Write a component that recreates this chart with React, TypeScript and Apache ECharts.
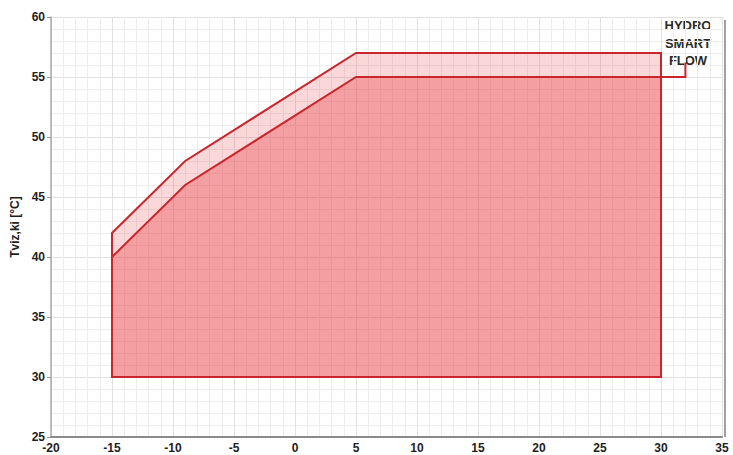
import React, { useEffect, useRef } from "react";
import * as echarts from "echarts";

// Operating envelope (outdoor temp °C -> water outlet temp °C)
const lowerX = [-15, -15, -9, 5, 30, 30];
const lowerY = [30, 40, 46, 55, 55, 30];
const upperX = [-15, -15, -9, 5, 30, 30];
const upperY = [40, 42, 48, 57, 57, 55];
const hydroX = [30, 32, 32];
const hydroY = [55, 55, 56.2];
const hydroLabel = "HYDRO\nSMART\nFLOW";
const yAxisName = "Tviz,ki [°C]";

const FONT = "'Liberation Sans', Arial, sans-serif";
const RED = "#c9252c";

export default function App() {
  const ref = useRef<HTMLDivElement>(null);
  useEffect(() => {
    document.body.style.margin = "0";
    const chart = echarts.init(ref.current!, null, { renderer: "svg" });
    chart.setOption({
      animation: false,
      backgroundColor: "#ffffff",
      grid: { left: 51, right: 11, top: 17, bottom: 18, containLabel: false },
      xAxis: {
        type: "value",
        min: -20,
        max: 35,
        interval: 5,
        axisLine: { show: true, onZero: false, lineStyle: { color: "#8a8a8a", width: 2 } },
        axisTick: { show: false },
        axisLabel: { color: "#1e1e1e", fontWeight: "bold", fontSize: 12, fontFamily: FONT, margin: 5 },
        splitLine: { show: true, lineStyle: { color: "#e0e0e0", width: 1 } },
        minorTick: { show: false, splitNumber: 5 },
        minorSplitLine: { show: true, lineStyle: { color: "#ededed", width: 1 } },
      },
      yAxis: {
        type: "value",
        min: 25,
        max: 60,
        interval: 5,
        name: yAxisName,
        nameLocation: "middle",
        nameRotate: 90,
        nameGap: 25,
        nameTextStyle: { color: "#1e1e1e", fontWeight: "bold", fontSize: 12, fontFamily: FONT },
        axisLine: { show: true, onZero: false, lineStyle: { color: "#aaaaaa", width: 1.5 } },
        axisTick: { show: true, length: 4, lineStyle: { color: "#999" } },
        axisLabel: { color: "#1e1e1e", fontWeight: "bold", fontSize: 12, fontFamily: FONT, margin: 6 },
        splitLine: { show: true, lineStyle: { color: "#e0e0e0", width: 1 } },
        minorTick: { show: false, splitNumber: 5 },
        minorSplitLine: { show: true, lineStyle: { color: "#ededed", width: 1 } },
      },
      series: [
        {
          type: "custom",
          data: [[lowerX[0], lowerY[0]]],
          encode: { x: 0, y: 1 },
          renderItem: (params: any, api: any) => {
            if (params.dataIndex !== 0) return null;
            const pt = (x: number, y: number) => api.coord([x, y]);
            const lower = lowerX.map((x, i) => pt(x, lowerY[i]));
            const upper = upperX.map((x, i) => pt(x, upperY[i]));
            const lowerTop = lowerX.slice(1, 5).map((x, i) => pt(x, lowerY[i + 1]));
            const band = upper.concat(lowerTop.slice().reverse());
            const hydro = hydroX.map((x, i) => pt(x, hydroY[i]));
            return {
              type: "group",
              children: [
                { type: "polygon", shape: { points: band }, style: { fill: "rgba(236,90,95,0.24)", stroke: null } },
                { type: "polygon", shape: { points: lower }, style: { fill: "rgba(233,66,72,0.5)", stroke: RED, lineWidth: 2 } },
                { type: "polyline", shape: { points: upper }, style: { fill: null, stroke: RED, lineWidth: 2 } },
                { type: "polyline", shape: { points: hydro }, style: { fill: null, stroke: RED, lineWidth: 2 } },
              ],
            };
          },
        },
      ],
      graphic: [
        {
          type: "line",
          shape: { x1: 725, y1: 20, x2: 725, y2: 437 },
          style: { stroke: "#a0a0a0", lineWidth: 2 },
          silent: true,
        },
        {
          type: "text",
          x: 688,
          y: 17,
          style: {
            text: hydroLabel,
            fill: "#2a2a2a",
            font: `bold 13px ${FONT}`,
            textAlign: "center",
            textVerticalAlign: "top",
            lineHeight: 17.5,
          },
          silent: true,
        },
      ],
    });
    return () => chart.dispose();
  }, []);
  return <div ref={ref} style={{ width: 733, height: 455 }} />;
}
